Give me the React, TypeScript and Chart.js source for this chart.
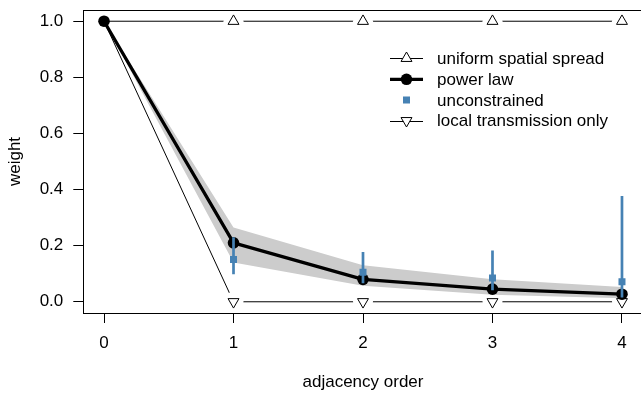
import React, { useEffect, useRef } from "react";
import { Chart, registerables } from "chart.js";

Chart.register(...registerables);

// ---- data ----
const orders = [0, 1, 2, 3, 4];
const uniformSpread = [1, 1, 1, 1, 1];
const localOnly = [1, 0, 0, 0, 0];
const powerLaw = [1, 0.21, 0.08, 0.045, 0.027];
const powerLawLower = [1, 0.14, 0.057, 0.025, 0.013];
const powerLawUpper = [1, 0.265, 0.13, 0.08, 0.053];
const unconstrainedOrders = [1, 2, 3, 4];
const unconstrained = [0.151, 0.105, 0.085, 0.071];
const unconstrainedLower = [0.098, 0.066, 0.041, 0.015];
const unconstrainedUpper = [0.23, 0.177, 0.183, 0.377];
const xTicks = [0, 1, 2, 3, 4];
const yTicks = [0, 0.2, 0.4, 0.6, 0.8, 1.0];
const legendLabels = [
  "uniform spatial spread",
  "power law",
  "unconstrained",
  "local transmission only",
];

const FONT = "'Liberation Sans', Arial, Helvetica, sans-serif";
const BLUE = "#4682B4";
const BAND = "#cccccc";

const pts = (xs: number[], ys: number[]) => xs.map((x, i) => ({ x, y: ys[i] }));

const boxPlugin = {
  id: "rBox",
  afterDatasetsDraw(chart: any) {
    const { ctx, chartArea } = chart;
    ctx.save();
    ctx.strokeStyle = "#000";
    ctx.lineWidth = 1;
    ctx.strokeRect(
      Math.round(chartArea.left) + 0.5,
      Math.round(chartArea.top) + 0.5,
      Math.round(chartArea.right - chartArea.left),
      Math.round(chartArea.bottom - chartArea.top)
    );
    ctx.restore();
  },
};

const legendPlugin = {
  id: "rLegend",
  afterDraw(chart: any) {
    const ctx = chart.ctx;
    const rows = [58.3, 79.3, 100, 120.7];
    const lx0 = 390;
    const lx1 = 423;
    const cx = 406.5;
    const tx = 437;
    ctx.save();
    ctx.font = `17px ${FONT}`;
    ctx.textBaseline = "middle";
    ctx.fillStyle = "#000";
    rows.forEach((y, i) => {
      ctx.save();
      if (i === 0 || i === 3) {
        ctx.strokeStyle = "#000";
        ctx.lineWidth = 1;
        ctx.beginPath();
        ctx.moveTo(lx0, Math.round(y) + 0.5);
        ctx.lineTo(lx1, Math.round(y) + 0.5);
        ctx.stroke();
        const s = 6.3;
        const dir = i === 0 ? 1 : -1;
        ctx.beginPath();
        ctx.moveTo(cx, y - dir * s);
        ctx.lineTo(cx + 0.866 * s, y + dir * 0.5 * s);
        ctx.lineTo(cx - 0.866 * s, y + dir * 0.5 * s);
        ctx.closePath();
        ctx.fillStyle = "#fff";
        ctx.fill();
        ctx.stroke();
      } else if (i === 1) {
        ctx.strokeStyle = "#000";
        ctx.lineWidth = 3.3;
        ctx.beginPath();
        ctx.moveTo(lx0, y);
        ctx.lineTo(lx1, y);
        ctx.stroke();
        ctx.beginPath();
        ctx.arc(cx, y, 5.8, 0, Math.PI * 2);
        ctx.fillStyle = "#000";
        ctx.fill();
      } else {
        ctx.fillStyle = BLUE;
        ctx.fillRect(cx - 3.5, y - 3.5, 7, 7);
      }
      ctx.restore();
      ctx.fillText(legendLabels[i], tx, y + 1);
    });
    ctx.restore();
  },
};

export default function App() {
  const ref = useRef<HTMLCanvasElement | null>(null);

  useEffect(() => {
    if (!ref.current) return;
    const tickFont = { size: 17, family: FONT };
    const errorBars = unconstrainedOrders.map((o, i) => ({
      type: "line",
      label: "err" + i,
      data: [
        { x: o, y: unconstrainedLower[i] },
        { x: o, y: unconstrainedUpper[i] },
      ],
      borderColor: BLUE,
      borderWidth: 2.7,
      borderCapStyle: "butt",
      pointRadius: 0,
      fill: false,
      order: 1,
    }));
    const chart = new Chart(ref.current, {
      type: "line",
      data: {
        datasets: [
          {
            label: "uniform line",
            data: pts(orders, uniformSpread),
            borderColor: "#000",
            borderWidth: 1,
            pointRadius: 0,
            fill: false,
            order: 7,
          },
          {
            label: "local line",
            data: pts(orders, localOnly),
            borderColor: "#000",
            borderWidth: 1,
            pointRadius: 0,
            fill: false,
            order: 7,
          },
          {
            label: "uniform halo",
            data: pts(orders.slice(1), uniformSpread.slice(1)),
            showLine: false,
            pointRadius: 10,
            pointBackgroundColor: "#fff",
            pointBorderColor: "#fff",
            pointBorderWidth: 0,
            order: 6,
          },
          {
            label: "local halo",
            data: pts(orders.slice(1), localOnly.slice(1)),
            showLine: false,
            pointRadius: 10,
            pointBackgroundColor: "#fff",
            pointBorderColor: "#fff",
            pointBorderWidth: 0,
            order: 6,
          },
          {
            label: "band upper",
            data: pts(orders, powerLawUpper),
            borderColor: "rgba(0,0,0,0)",
            backgroundColor: BAND,
            pointRadius: 0,
            fill: "+1",
            order: 5,
          },
          {
            label: "band lower",
            data: pts(orders, powerLawLower),
            borderColor: "rgba(0,0,0,0)",
            pointRadius: 0,
            fill: false,
            order: 5,
          },
          {
            label: "uniform spatial spread",
            data: pts(orders.slice(1), uniformSpread.slice(1)),
            showLine: false,
            pointStyle: "triangle",
            pointRadius: 6.3,
            pointBackgroundColor: "#fff",
            pointBorderColor: "#000",
            pointBorderWidth: 1,
            order: 3,
          },
          {
            label: "local transmission only",
            data: pts(orders.slice(1), localOnly.slice(1)),
            showLine: false,
            pointStyle: "triangle",
            pointRotation: 180,
            pointRadius: 6.3,
            pointBackgroundColor: "#fff",
            pointBorderColor: "#000",
            pointBorderWidth: 1,
            order: 3,
          },
          {
            label: "power law",
            data: pts(orders, powerLaw),
            borderColor: "#000",
            borderWidth: 3.3,
            borderJoinStyle: "round",
            borderCapStyle: "round",
            pointRadius: 5.8,
            pointBackgroundColor: "#000",
            pointBorderColor: "#000",
            pointBorderWidth: 0,
            fill: false,
            order: 2,
          },
          ...errorBars,
          {
            label: "unconstrained",
            data: pts(unconstrainedOrders, unconstrained),
            showLine: false,
            pointStyle: "rect",
            pointRadius: 4.95,
            pointBackgroundColor: BLUE,
            pointBorderColor: BLUE,
            pointBorderWidth: 0,
            order: 0,
          },
        ] as any,
      },
      options: {
        animation: false,
        responsive: false,
        events: [],
        layout: { padding: { top: 7.7, right: 17.3, left: 0, bottom: 0 } },
        plugins: {
          legend: { display: false },
          tooltip: { enabled: false },
        },
        scales: {
          x: {
            type: "linear",
            min: -0.16,
            max: 4.16,
            afterBuildTicks: (s: any) => {
              s.ticks = xTicks.map((v) => ({ value: v }));
            },
            afterFit: (s: any) => {
              s.height = 80;
              s.paddingLeft = 0;
              s.paddingRight = 0;
            },
            grid: {
              drawOnChartArea: false,
              drawTicks: true,
              tickLength: 10,
              tickColor: "#000",
              tickWidth: 1,
            },
            border: { display: false },
            ticks: {
              color: "#000",
              font: tickFont,
              padding: 10,
              maxRotation: 0,
              autoSkip: false,
              callback: (v: any) => String(v),
            },
            title: {
              display: true,
              text: "adjacency order",
              color: "#000",
              font: tickFont,
              padding: { top: 0, bottom: 0 },
            },
          },
          y: {
            type: "linear",
            min: -0.04,
            max: 1.04,
            afterBuildTicks: (s: any) => {
              s.ticks = yTicks.map((v) => ({ value: v }));
            },
            afterFit: (s: any) => {
              s.width = 83.3;
              s.paddingTop = 0;
              s.paddingBottom = 0;
            },
            grid: {
              drawOnChartArea: false,
              drawTicks: true,
              tickLength: 10,
              tickColor: "#000",
              tickWidth: 1,
            },
            border: { display: false },
            ticks: {
              color: "#000",
              font: tickFont,
              padding: 10,
              autoSkip: false,
              callback: (v: any) => Number(v).toFixed(1),
            },
            title: {
              display: true,
              text: "weight",
              color: "#000",
              font: tickFont,
              padding: { top: 5, bottom: 0 },
            },
          },
        },
      } as any,
      plugins: [boxPlugin, legendPlugin],
    });
    return () => chart.destroy();
  }, []);

  return (
    <div
      style={{
        position: "absolute",
        left: 0,
        top: 0,
        width: 641,
        height: 393,
        overflow: "hidden",
        background: "#fff",
      }}
    >
      <canvas ref={ref} width={660} height={393} style={{ display: "block", width: 660, height: 393 }} />
    </div>
  );
}
